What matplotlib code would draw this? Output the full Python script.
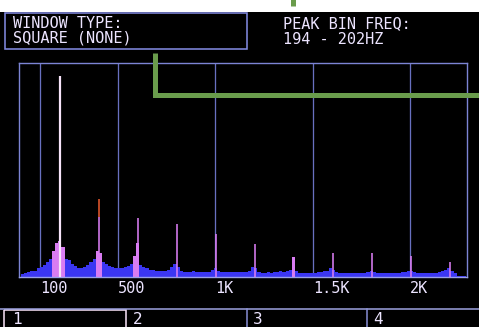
import matplotlib
matplotlib.use("Agg")
import matplotlib.pyplot as plt
import numpy as np
from matplotlib.patches import Rectangle

# ---------------- data ----------------
header_left = ["WINDOW TYPE:", "SQUARE (NONE)"]
header_right = ["PEAK BIN FREQ:", "194 - 202HZ"]
tab_labels = ["1", "2", "3", "4"]

grid_freqs = [100, 500, 1000, 1500, 2000]
grid_labels = ["100", "500", "1K", "1.5K", "2K"]

# noise-floor bins, 16 Hz wide, level in % of full scale
floor_step = 16
floor_levels = [
    1.5, 2, 2.5, 3, 3, 4, 4.5, 5.5, 7, 8.5,
    12, 16, 17, 14, 8.5, 8, 6, 5, 4, 4,
    4.5, 5.5, 7, 8.5, 12, 11, 7, 6, 5, 4.5,
    4, 4, 4, 4.5, 5, 6, 10, 16, 5.5, 4.5,
    4, 3.5, 3.5, 3, 3, 3, 3, 3.5, 4.5, 6,
    4.5, 3, 2.5, 2.5, 2.5, 3, 2.5, 2.5, 2.5, 2.5,
    2.5, 3.5, 4, 3, 2.5, 2.5, 2.5, 2.5, 2.5, 2.5,
    2.5, 2.5, 2.5, 3, 4.5, 4, 2.5, 2, 2, 2.5,
    2, 2.5, 2.5, 3, 2.5, 3, 3.5, 9.3, 3, 2,
    2, 2, 2, 2, 2, 2.5, 2.5, 3, 3, 4,
    3.5, 2.5, 2, 2, 2, 2, 2, 2, 2, 2,
    2, 2.5, 3, 2.5, 2, 2, 2, 2, 2, 2,
    2, 2, 2.5, 2.5, 3, 3, 2.5, 2, 2, 2,
    2, 2, 2, 2, 2.5, 3, 3.5, 4, 3, 2,
    0.4, 0.4, 0.4,
]

# harmonic peaks
peak_freqs = [200, 401, 601, 802, 1002, 1203, 1403, 1604, 1804, 2005, 2205]
peak_levels = [94, 28, 27.6, 24.8, 20, 15.4, 9.3, 11.2, 11.2, 9.8, 7]
hold_freq = 401
hold_level = 36.4

# ---------------- style ----------------
W, H = 479, 327
BLUE = "#3b36f2"
PINK = "#d97cf2"
WHITE_PEAK = "#f7e4fa"
RED = "#e2572c"
GRID = "#6870c0"
FRAME = "#7c84d4"
TEXT = "#ece4ff"
GREEN = "#6a9c4c"
PX = 0.72  # points per pixel at 100 dpi
MONO = "DejaVu Sans Mono"

fig = plt.figure(figsize=(W / 100, H / 100), dpi=100, facecolor="black")

bg = fig.add_axes([0, 0, 1, 1], zorder=0)
bg.set_xlim(0, W)
bg.set_ylim(H, 0)
bg.axis("off")
bg.add_patch(Rectangle((0, 0), W, 11.5, color="white", lw=0))

# spectrum axes
ax = fig.add_axes([19 / W, 50 / H, 448 / W, 214 / H], zorder=1)
ax.set_facecolor("black")
ax.set_xlim(-10, 2293)
ax.set_ylim(0, 100)
for s in ax.spines.values():
    s.set_color(FRAME)
    s.set_linewidth(1.4 * PX)
ax.spines["bottom"].set_color("#9aa0e8")

for g in grid_freqs:
    ax.axvline(g, color=GRID, lw=1.3 * PX, zorder=1)

levels = np.array(floor_levels)
freqs = np.arange(len(levels)) * floor_step + floor_step / 2
colors = np.where(levels >= 9, PINK, BLUE)
ax.bar(freqs, levels, width=floor_step, color=colors, lw=0, zorder=2)

pk_colors = [WHITE_PEAK] + [PINK] * (len(peak_freqs) - 1)
pk_widths = [2.2 * PX] + [1.6 * PX] * (len(peak_freqs) - 1)
ax.vlines(peak_freqs, 0, peak_levels, colors=pk_colors, linewidths=pk_widths, zorder=3)
ax.vlines([hold_freq], [peak_levels[1]], [hold_level], colors=RED, linewidths=1.6 * PX, zorder=3)

ax.set_yticks([])
ax.set_xticks(grid_freqs)
ax.set_xticklabels(grid_labels, family=MONO, fontsize=11, color=TEXT)
for lbl in ax.get_xticklabels():
    lbl.set_horizontalalignment("left")
ax.tick_params(axis="x", length=0, pad=3)

# overlay in pixel coordinates
ov = fig.add_axes([0, 0, 1, 1], zorder=3)
ov.patch.set_alpha(0)
ov.set_xlim(0, W)
ov.set_ylim(H, 0)
ov.axis("off")

ov.add_patch(Rectangle((5, 12.5), 242, 36, fill=False, ec="#8088dc", lw=1.6 * PX))
ov.plot([155.5, 155.5, W + 2], [53, 94.5, 94.5], color=GREEN, lw=5 * PX,
        solid_joinstyle="miter", solid_capstyle="butt")
ov.plot([293.5, 293.5], [-1, 6], color=GREEN, lw=5 * PX, solid_capstyle="butt")

tf = dict(family=MONO, fontsize=11, color=TEXT, va="top", ha="left", linespacing=1.0)
ov.text(13, 15.5, "\n".join(header_left), **tf)
ov.text(283, 16.5, "\n".join(header_right), **tf)

# bottom tabs
ov.plot([0, W], [309, 309], color="#a0a6e4", lw=1.5 * PX)
ov.add_patch(Rectangle((4, 309.5), 122, 25, fill=False, ec="#f2dcf0", lw=1.6 * PX))
for xd in [247, 367]:
    ov.plot([xd, xd], [309, H + 2], color="#8a90d8", lw=1.5 * PX)
for xt, t in zip([12, 133, 253, 373], tab_labels):
    ov.text(xt, 326.5, t, family=MONO, fontsize=11.5, color=TEXT,
            va="bottom", ha="left")

fig.savefig("out.png", dpi=100, facecolor=fig.get_facecolor())
